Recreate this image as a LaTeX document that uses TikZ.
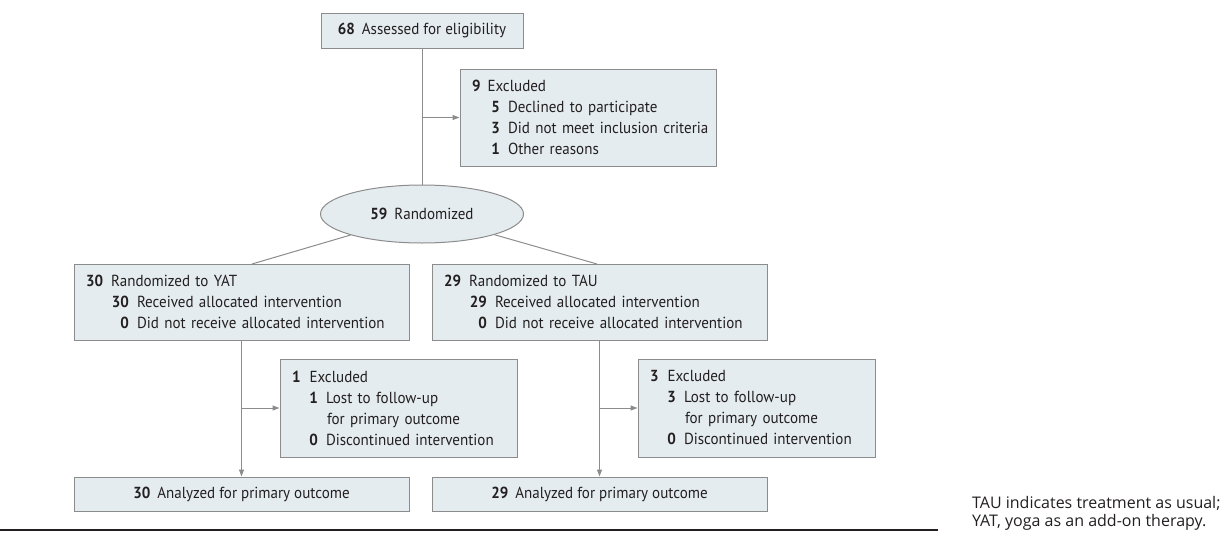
\documentclass[tikz,border=0pt]{standalone}
\usepackage{fontspec}
\setmainfont{PT Sans}[FakeStretch=0.94]
\newfontfamily\capfont{Open Sans}
\usetikzlibrary{arrows.meta,shapes.geometric}
\definecolor{boxfill}{HTML}{E4ECEF}
\definecolor{boxdraw}{HTML}{8C8C8C}
\definecolor{txt}{HTML}{231F20}
\newcommand\bn[1]{\textbf{#1}}
\newcommand\subl[4]{\mbox{\hspace*{#1}\makebox[#2][r]{\textbf{#3}}\hspace{8pt}#4}}
\tikzset{
  box/.style={draw=boxdraw, fill=boxfill, line width=1pt, rectangle, inner ysep=0pt, inner xsep=12pt,
    text=txt, font=\fontsize{16}{21}\selectfont},
  lbox/.style={box, align=left},
  conn/.style={draw=boxdraw, line width=1pt},
  arr/.style={conn, -{Triangle[length=7pt,width=5pt]}},
  captext/.style={text=txt, inner sep=0pt, anchor=base west, font=\capfont\fontsize{16}{18}\selectfont},
}
\begin{document}
\begin{tikzpicture}[x=1pt,y=-1pt]
\useasboundingbox (0,0) rectangle (1225,538);
% top
\node[box, minimum width=202pt, minimum height=35pt] (assess) at (422,30.5) {\bn{68}\hspace{7pt}Assessed for eligibility};
\node[lbox, text width=232pt, minimum height=97pt] (excl1) at (588,117.5)
  {\mbox{\bn{9}\hspace{7pt}Excluded}\\
   \subl{19pt}{9pt}{5}{Declined to participate}\\
   \subl{19pt}{9pt}{3}{Did not meet inclusion criteria}\\
   \subl{19pt}{9pt}{1}{Other reasons}};
\node[ellipse, draw=boxdraw, fill=boxfill, line width=1pt, inner sep=0pt, minimum width=203pt, minimum height=58pt,
  text=txt, font=\fontsize{16}{21}\selectfont] (rand) at (422,214) {\bn{59}\hspace{7pt}Randomized};
% allocation
\node[lbox, text width=311pt, minimum height=76pt] (yat) at (241.5,302)
  {\mbox{\bn{30}\hspace{8pt}Randomized to YAT}\\
   \subl{26pt}{17pt}{30}{Received allocated intervention}\\
   \subl{26pt}{17pt}{0}{Did not receive allocated intervention}};
\node[lbox, text width=311pt, minimum height=76pt] (tau) at (599.5,302)
  {\mbox{\bn{29}\hspace{8pt}Randomized to TAU}\\
   \subl{26pt}{17pt}{29}{Received allocated intervention}\\
   \subl{26pt}{17pt}{0}{Did not receive allocated intervention}};
% follow-up exclusions
\node[lbox, text width=213pt, minimum height=98pt] (excl2) at (398.5,408)
  {\mbox{\bn{1}\hspace{9pt}Excluded}\\
   \subl{19pt}{7pt}{1}{Lost to follow-up}\\
   \mbox{\hspace*{35pt}for primary outcome}\\
   \subl{19pt}{7pt}{0}{Discontinued intervention}};
\node[lbox, text width=213pt, minimum height=98pt] (excl3) at (756.5,408)
  {\mbox{\bn{3}\hspace{9pt}Excluded}\\
   \subl{19pt}{7pt}{3}{Lost to follow-up}\\
   \mbox{\hspace*{35pt}for primary outcome}\\
   \subl{19pt}{7pt}{0}{Discontinued intervention}};
% analysis
\node[box, minimum width=335pt, minimum height=34pt] (an1) at (241.5,494) {\bn{30}\hspace{7pt}Analyzed for primary outcome};
\node[box, minimum width=335pt, minimum height=34pt] (an2) at (599.5,494) {\bn{29}\hspace{7pt}Analyzed for primary outcome};
% connectors
\coordinate (j1) at (422,117.5);
\coordinate (yt) at (252,264);
\coordinate (tt) at (597,264);
\coordinate (j2) at (241.5,408);
\coordinate (j3) at (599.5,408);
\draw[conn] (assess) -- (rand);
\draw[arr] (j1) -- (j1 -| excl1.west);
\draw[conn] (rand) -- (yt);
\draw[conn] (rand) -- (tt);
\draw[arr] (yat) -- (an1);
\draw[arr] (tau) -- (an2);
\draw[arr] (j2) -- (j2 -| excl2.west);
\draw[arr] (j3) -- (j3 -| excl3.west);
% footer
\draw[txt, line width=1.3pt] (0,530) -- (938,530);
\node[captext] (cap1) at (972,508) {TAU indicates treatment as usual;};
\node[captext] (cap2) at (972,526) {YAT, yoga as an add-on therapy.};
\end{tikzpicture}
\end{document}
